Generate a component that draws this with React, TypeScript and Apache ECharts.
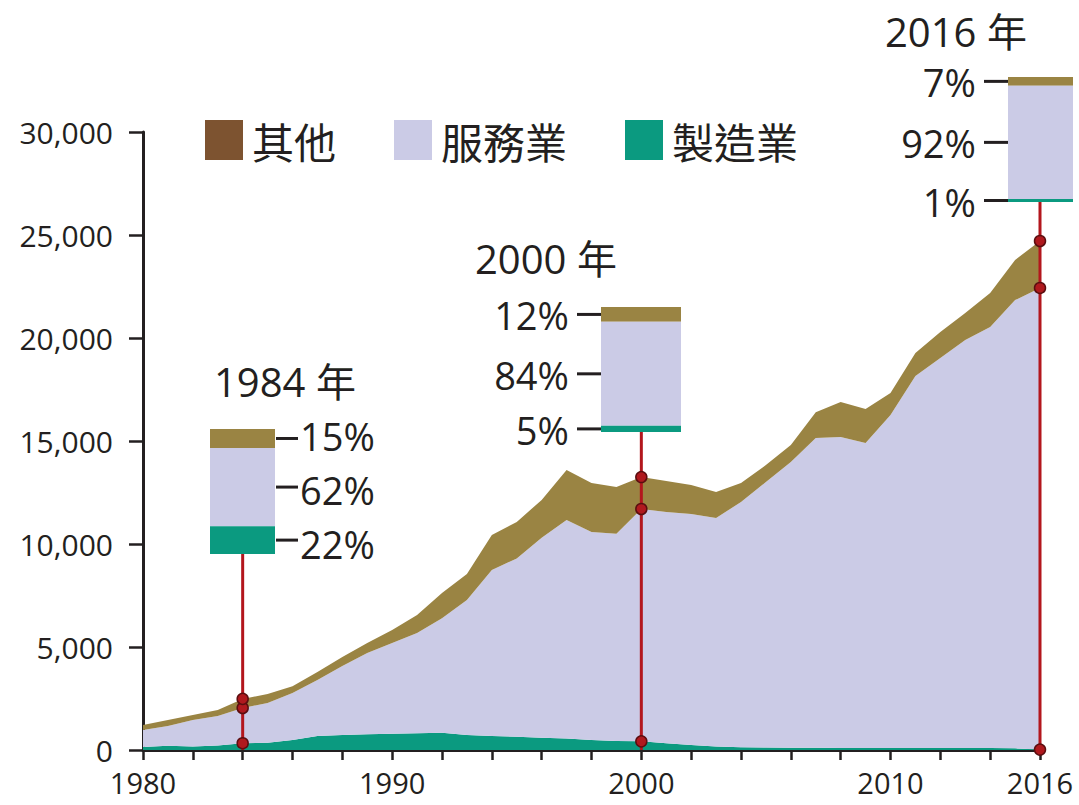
import React, { useEffect, useRef } from "react";
import * as echarts from "echarts";

const years = [
  "1980", "1981", "1982", "1983", "1984", "1985", "1986", "1987", "1988", "1989",
  "1990", "1991", "1992", "1993", "1994", "1995", "1996", "1997", "1998", "1999",
  "2000", "2001", "2002", "2003", "2004", "2005", "2006", "2007", "2008", "2009",
  "2010", "2011", "2012", "2013", "2014", "2015", "2016",
];

const manufacturing = [
  150, 210, 170, 220, 330, 350, 480, 680, 730, 760,
  790, 810, 840, 730, 680, 640, 600, 560, 490, 440,
  420, 330, 240, 170, 130, 120, 110, 110, 100, 100,
  100, 100, 100, 100, 100, 80, 20,
];

const services = [
  820, 955, 1290, 1430, 1710, 1930, 2290, 2720, 3350, 3950,
  4400, 4870, 5560, 6550, 8060, 8660, 9700, 10610, 10090, 10060,
  11280, 11220, 11220, 11090, 11910, 12890, 13870, 15040, 15090, 14800,
  16160, 18050, 18930, 19800, 20430, 21760, 22410,
];

const other = [
  240, 295, 240, 290, 440, 440, 330, 390, 430, 480,
  640, 870, 1220, 1260, 1700, 1770, 1840, 2420, 2380, 2270,
  1550, 1510, 1400, 1260, 920, 820, 820, 1250, 1700, 1650,
  1070, 1120, 1260, 1310, 1650, 1950, 2280,
];

const xLabelYears = ["1980", "1990", "2000", "2010", "2016"];

const snapshotYears = ["1984", "2000", "2016"];
const snapshotOther = [15, 12, 7];
const snapshotServices = [62, 84, 92];
const snapshotManufacturing = [22, 5, 1];

const C_OTHER = "#9a8443";
const C_OTHER_LEGEND = "#7d5330";
const C_SERV = "#cbcbe6";
const C_MFG = "#0b9a80";
const C_TEXT = "#231f20";
const C_RED = "#b3161d";

const NUM_FONT = "'Open Sans', 'Noto Sans CJK TC', sans-serif";
const CJK_FONT = "'Noto Sans CJK TC', 'Open Sans', sans-serif";

export default function App() {
  const ref = useRef<HTMLDivElement>(null);

  useEffect(() => {
    document.body.style.margin = "0";
    const chart = echarts.init(ref.current!, null, { renderer: "svg" });

    const dots: any[] = [];
    snapshotYears.forEach((y) => {
      const i = years.indexOf(y);
      dots.push([y, manufacturing[i]]);
      dots.push([y, manufacturing[i] + services[i]]);
      dots.push([y, manufacturing[i] + services[i] + other[i]]);
    });

    chart.setOption({
      animation: false,
      grid: { left: 143, right: 39, top: 132, bottom: 55, containLabel: false, outerBoundsMode: "none" },
      legend: {
        left: 200,
        top: 114,
        itemWidth: 38,
        itemHeight: 40,
        itemGap: 58,
        icon: "rect",
        selectedMode: false,
        textStyle: { fontSize: 42, color: C_TEXT, fontFamily: CJK_FONT, padding: [0, 0, 0, 4] },
        data: [
          { name: "其他", itemStyle: { color: C_OTHER_LEGEND } },
          { name: "服務業", itemStyle: { color: C_SERV } },
          { name: "製造業", itemStyle: { color: C_MFG } },
        ],
      },
      xAxis: {
        type: "category",
        data: years,
        boundaryGap: false,
        axisLine: { lineStyle: { color: C_TEXT, width: 3 } },
        axisTick: { interval: 1, length: 10, lineStyle: { color: C_TEXT, width: 2.5 } },
        axisLabel: {
          interval: 0,
          margin: 18,
          fontSize: 29,
          fontFamily: NUM_FONT,
          color: C_TEXT,
          formatter: (v: string) => (xLabelYears.includes(v) ? v : ""),
        },
        splitLine: { show: false },
      },
      yAxis: {
        type: "value",
        min: 0,
        max: 30000,
        interval: 5000,
        axisLine: { show: true, lineStyle: { color: C_TEXT, width: 3 } },
        axisTick: { show: true, length: 14, lineStyle: { color: C_TEXT, width: 2.5 } },
        axisLabel: {
          margin: 30,
          fontSize: 30,
          fontFamily: NUM_FONT,
          color: C_TEXT,
          formatter: (v: number) => v.toLocaleString("en-US"),
        },
        splitLine: { show: false },
      },
      series: [
        {
          name: "製造業",
          type: "line",
          stack: "total",
          data: manufacturing,
          symbol: "none",
          lineStyle: { width: 0 },
          itemStyle: { color: C_MFG },
          areaStyle: { color: C_MFG, opacity: 1 },
          z: 2,
        },
        {
          name: "服務業",
          type: "line",
          stack: "total",
          data: services,
          symbol: "none",
          lineStyle: { width: 0 },
          itemStyle: { color: C_SERV },
          areaStyle: { color: C_SERV, opacity: 1 },
          z: 2,
        },
        {
          name: "其他",
          type: "line",
          stack: "total",
          data: other,
          symbol: "none",
          lineStyle: { width: 0 },
          itemStyle: { color: C_OTHER },
          areaStyle: { color: C_OTHER, opacity: 1 },
          z: 2,
        },
        {
          name: "dots",
          type: "scatter",
          data: dots,
          symbolSize: 11,
          itemStyle: { color: "#b0191e", borderColor: "#5b0e10", borderWidth: 1.5, opacity: 1 },
          z: 10,
          silent: true,
        },
      ],
    });

    // annotation layout (pixels)
    const layout = [
      { top: 429, width: 65, side: "right", titleX: 214, titleY: 381, textShift: [-2, 2.5, 3.5] },
      { top: 307, width: 80, side: "left", titleX: 475, titleY: 258, textShift: [1, 1, 1] },
      { top: 77, width: 65, side: "left", titleX: 885, titleY: 31, textShift: [1, 1, 1] },
    ];
    const BOX_H = 125;
    const LABEL_FS = 38;
    const TITLE_FS = 40;
    const elements: any[] = [];
    snapshotYears.forEach((y, k) => {
      const [px, py0] = chart.convertToPixel({ gridIndex: 0 }, [y, 0]) as number[];
      const L = layout[k];
      const left = Math.round(px - L.width / 2);
      const shares = [snapshotOther[k], snapshotServices[k], snapshotManufacturing[k]];
      const colors = [C_OTHER, C_SERV, C_MFG];
      const sum = shares.reduce((a, b) => a + b, 0);
      let hs = shares.map((s) => Math.max(3, (s / sum) * BOX_H));
      const extra = hs.reduce((a, b) => a + b, 0) - BOX_H;
      hs[1] -= extra;
      let cy = L.top;
      hs.forEach((h, j) => {
        elements.push({
          type: "rect",
          shape: { x: left, y: cy, width: L.width, height: h },
          style: { fill: colors[j] },
          z: 5,
        });
        const mid = cy + h / 2;
        const ty = mid + L.textShift[j];
        if (L.side === "right") {
          elements.push({
            type: "line",
            shape: { x1: left + L.width + 1, y1: mid, x2: left + L.width + 23, y2: mid },
            style: { stroke: C_TEXT, lineWidth: 3 },
            z: 5,
          });
          elements.push({
            type: "text",
            x: left + L.width + 25,
            y: ty,
            style: {
              text: shares[j] + "%",
              fontSize: LABEL_FS,
              lineHeight: LABEL_FS,
              fontFamily: NUM_FONT,
              fill: C_TEXT,
              textAlign: "left",
              textVerticalAlign: "middle",
            },
            z: 5,
          });
        } else {
          elements.push({
            type: "line",
            shape: { x1: left - 24, y1: mid, x2: left, y2: mid },
            style: { stroke: C_TEXT, lineWidth: 3 },
            z: 5,
          });
          elements.push({
            type: "text",
            x: left - 32,
            y: ty,
            style: {
              text: shares[j] + "%",
              fontSize: LABEL_FS,
              lineHeight: LABEL_FS,
              fontFamily: NUM_FONT,
              fill: C_TEXT,
              textAlign: "right",
              textVerticalAlign: "middle",
            },
            z: 5,
          });
        }
        cy += h;
      });
      elements.push({
        type: "line",
        shape: { x1: px, y1: L.top + BOX_H, x2: px, y2: py0 },
        style: { stroke: C_RED, lineWidth: 3 },
        z: 6,
      });
      elements.push({
        type: "text",
        x: L.titleX,
        y: L.titleY,
        style: {
          text: y + " 年",
          fontSize: TITLE_FS,
          lineHeight: TITLE_FS,
          fontFamily: NUM_FONT,
          fill: C_TEXT,
          textAlign: "left",
          textVerticalAlign: "middle",
        },
        z: 5,
      });
    });

    chart.setOption({ graphic: { elements } });

    return () => chart.dispose();
  }, []);

  return <div ref={ref} style={{ width: 1079, height: 805 }} />;
}
